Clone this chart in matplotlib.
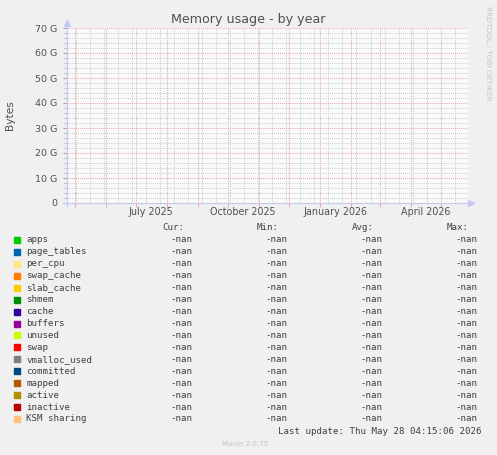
import numpy as np
import pandas as pd
import matplotlib
matplotlib.use('Agg')
from matplotlib import pyplot as plt
import matplotlib.dates as mdates
from matplotlib.lines import Line2D
from matplotlib.patches import Rectangle

W, H = 497, 455

# graph period (munin year view: 400 days back from last update)
end_time = pd.Timestamp('2026-05-28 04:15:06')
start_time = end_time - pd.Timedelta(days=400)

series = ['apps', 'page_tables', 'per_cpu', 'swap_cache', 'slab_cache', 'shmem',
          'cache', 'buffers', 'unused', 'swap', 'vmalloc_used', 'committed',
          'mapped', 'active', 'inactive', 'KSM sharing']
colors = ['#00CC00', '#0066B3', '#FFE680', '#FF8000', '#FFCC00', '#008F00',
          '#330099', '#990099', '#CCFF00', '#FF0000', '#808080', '#00487D',
          '#B35A00', '#B38F00', '#B30000', '#FFC080']

# no samples were recorded -> everything is nan
sample_times = [start_time, end_time]
mem_values = [[np.nan, np.nan] for _ in series]
cur_vals = [np.nan] * len(series)
min_vals = [np.nan] * len(series)
avg_vals = [np.nan] * len(series)
max_vals = [np.nan] * len(series)

y_ticks = [0, 10e9, 20e9, 30e9, 40e9, 50e9, 60e9, 70e9]
x_labels = ['July 2025', 'October 2025', 'January 2026', 'April 2026']
x_label_dates = ['2025-07-16', '2025-10-16', '2026-01-16', '2026-04-16']


def fx(px):
    return px / W


def fy(py):
    return 1 - py / H


bg = '#F0F0F0'
txt = '#505050'
red_grid = '#F0A8A8'
gray_grid = '#CFCFCF'
axis_col = '#C8C8F4'

fig = plt.figure(figsize=(W / 100, H / 100), dpi=100, facecolor=bg)
left, right, top, bottom = 66.7, 468, 28, 203
ax = fig.add_axes([fx(left), fy(bottom), fx(right - left), (bottom - top) / H])
ax.set_facecolor('#FAFAFA')

t_num = mdates.date2num(pd.to_datetime(sample_times))
ax.stackplot(t_num, np.array(mem_values), colors=colors)

ax.set_xlim(mdates.date2num(start_time), mdates.date2num(end_time))
ax.set_ylim(0, 70e9)

# y grid
ax.set_yticks(y_ticks)
ax.set_yticklabels(['0' if v == 0 else '%d G' % (v / 1e9) for v in y_ticks])
ax.set_yticks(np.arange(0, 70e9 + 1, 2e9), minor=True)

# x grid: month starts (red), every two weeks (gray)
months = pd.date_range('2025-05-01', '2026-05-01', freq='MS')
ax.set_xticks(mdates.date2num(months))
ax.set_xticklabels([])
biweek = pd.date_range('2025-05-02', end_time, freq='14D')
ax.set_xticks(mdates.date2num(biweek), minor=True)

dot = (0, (1, 1))
ax.grid(which='minor', color=gray_grid, linestyle=dot, linewidth=0.75)
ax.grid(which='major', color=red_grid, linestyle=dot, linewidth=0.75)
ax.set_axisbelow(True)

ax.tick_params(axis='y', which='major', direction='out', length=3, width=0.75,
               color='#A8A8A8', labelsize=6.8, labelcolor=txt, pad=4)
ax.tick_params(axis='y', which='minor', direction='out', length=2, width=0.75,
               color='#B8B8B8')
ax.tick_params(axis='x', which='major', direction='out', length=3, width=0.75,
               color=red_grid)
ax.tick_params(axis='x', which='minor', length=0)
for s in ax.spines.values():
    s.set_visible(False)

for d, lab in zip(x_label_dates, x_labels):
    ax.text(mdates.date2num(pd.Timestamp(d)), -0.053, lab, transform=ax.get_xaxis_transform(),
            ha='center', va='center', fontsize=6.9, color=txt)

# axis lines with arrows
fig.add_artist(Line2D([fx(left), fx(left)], [fy(206), fy(23)], color=axis_col, lw=0.9))
fig.add_artist(Line2D([fx(63), fx(470)], [fy(bottom), fy(bottom)], color=axis_col, lw=0.9))
fig.add_artist(Line2D([fx(left)], [fy(23)], marker='^', markersize=4.5, color=axis_col, lw=0))
fig.add_artist(Line2D([fx(471)], [fy(bottom)], marker='>', markersize=4.5, color=axis_col, lw=0))

fig.text(fx(248), fy(19), 'Memory usage - by year', ha='center', va='center',
         fontsize=9.1, color=txt)
fig.text(fx(10), fy(115), 'Bytes', rotation=90, ha='center', va='center',
         fontsize=7.6, color=txt)
fig.text(fx(488), fy(53), 'RRDTOOL / TOBI OETIKER', rotation=270, ha='center',
         va='center', fontsize=5.3, color='#C4C4C4')

# legend table
mono = 'DejaVu Sans Mono'
fs = 6.6
col_head = [(162, 'Cur:'), (257, 'Min:'), (351.7, 'Avg:'), (446.7, 'Max:')]
col_val = [170, 265, 360, 455]
for x, h in col_head:
    fig.text(fx(x), fy(228), h, family=mono, fontsize=fs, color='#404040', va='center')


def fmt(v):
    return '-nan' if np.isnan(v) else '%.2f' % v


for i, name in enumerate(series):
    y = 240 + i * 11.93
    fig.add_artist(Rectangle((fx(14), fy(y + 3)), fx(6), 6 / H, color=colors[i],
                             transform=fig.transFigure))
    fig.text(fx(26.5), fy(y), name, family=mono, fontsize=fs, color='#404040', va='center')
    vals = [cur_vals[i], min_vals[i], avg_vals[i], max_vals[i]]
    for x, v in zip(col_val, vals):
        fig.text(fx(x), fy(y), fmt(v), family=mono, fontsize=fs, color='#404040', va='center')

fig.text(fx(482), fy(431.7), 'Last update: Thu May 28 04:15:06 2026', family=mono,
         fontsize=fs, color='#404040', ha='right', va='center')
fig.text(fx(245.5), fy(444.3), 'Munin 2.0.75', fontsize=5, color='#C4C4C4',
         ha='center', va='center')

fig.savefig('out.png', dpi=100, facecolor=bg)
